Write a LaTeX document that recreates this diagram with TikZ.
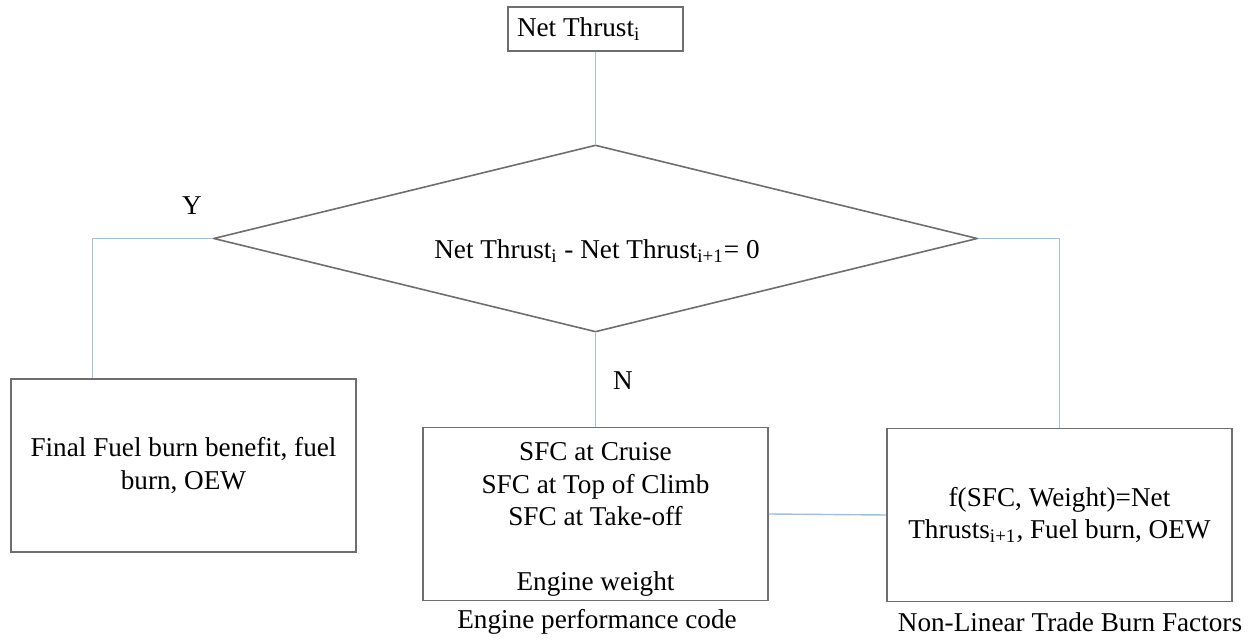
\documentclass[tikz,border=0pt]{standalone}
\usepackage{fontspec}
\setmainfont{Liberation Serif}
\usetikzlibrary{shapes.geometric}

\definecolor{linkblue}{HTML}{9FBFDA}
\definecolor{boxgray}{HTML}{6E6E6E}

\begin{document}
\begin{tikzpicture}[x=0.5pt, y=-0.5pt,
    every node/.style={font=\fontsize{13.6}{16.2}\selectfont},
    procbox/.style={draw=boxgray, line width=0.8pt, align=center,
      minimum width=172.5pt, minimum height=86.5pt, inner sep=0pt},
    decision/.style={diamond, draw=boxgray, line width=0.8pt,
      minimum width=382pt, minimum height=93.5pt, inner sep=0pt},
    link/.style={draw=linkblue, line width=0.7pt}]

    % --- 1. 座標の基準定義 ---
    % xMid: 中央列, xLeft / xRight: 左右の列
    \def\xLeft{183.5}
    \def\xMid{595.5}
    \def\xRight{1059.5}
    \def\yTop{29}
    \def\yDia{238.5}
    \def\yBox{515}

    \useasboundingbox (0,0) rectangle (1258,641);

    % --- 2. ノード ---
    \node[draw=boxgray, line width=0.8pt, minimum width=87.5pt,
      minimum height=22pt, inner sep=0pt] (thrust) at (\xMid, \yTop)
      {\makebox[78.5pt][l]{Net Thrust\textsubscript{i}}};

    \node[decision] (check) at (\xMid, \yDia) {};
    \node (cond) at (597, 251)
      {Net Thrust\textsubscript{i} - Net Thrust\textsubscript{i+1}= 0};

    \node[procbox] (final) at (\xLeft, 465.5)
      {Final Fuel burn benefit, fuel\\burn, OEW};
    \node[procbox] (engine) at (\xMid, 514)
      {\rule{0pt}{14.6pt}SFC at Cruise\\SFC at Top of Climb\\SFC at Take-off\\[16.4pt]Engine weight};
    \node[procbox] (trade) at (\xRight, \yBox)
      {f(SFC, Weight)=Net\\Thrusts\textsubscript{i+1}, Fuel burn, OEW};

    % 分岐ラベルと下の説明
    \node (yes) at (192, 206) {Y};
    \node (no)  at (623, 381) {N};
    \node (engcap)   at (597, 622)  {Engine performance code};
    \node (tradecap) at (1070, 622) {Non-Linear Trade Burn Factors};

    % --- 3. 接続線 ---
    \draw[link] (thrust.south) -- (check.north);
    \draw[link] (check.west) -| ([xshift=41pt]final.north west);
    \draw[link] (check.south) -- (engine.north);
    \draw[link] (check.east) -| (trade.north);
    \draw[link] (engine.east) -- (trade.west);

\end{tikzpicture}
\end{document}
